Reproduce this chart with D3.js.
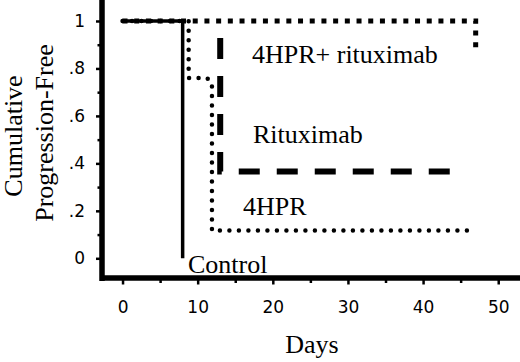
<!DOCTYPE html>
<html>
<head>
  <meta charset="utf-8">
  <style>
    body { margin: 0; background: #fff; }
    .axis text { font-family: "DejaVu Sans", Verdana, sans-serif; font-size: 17px; fill: #000; }
  </style>
</head>
<body>
<svg id="km" width="520" height="362"></svg>
<script src="https://d3js.org/d3.v7.min.js"></script>
<script>
// tick values and labels
var xTicks = [0, 10, 20, 30, 40, 50];
var xMinor = [5, 15, 25, 35, 45];
var yTicks = [0, .2, .4, .6, .8, 1];
var yTickLabels = ["0", ".2", ".4", ".6", ".8", "1"];
var yMinor = [.1, .3, .5, .7, .9];

// step curves: days and cumulative progression-free
var controlDays = [0, 8, 8];
var controlSurv = [1, 1, 0];
var hprDays = [0, 8.8, 8.8, 11.2, 11.9, 11.9, 46.2];
var hprSurv = [1, 1, .76, .76, .74, .117, .117];
var ritDays = [13, 13, 45.2];
var ritSurv = [1, .366, .366];
var comboDays = [0, 47, 47];
var comboSurv = [1, 1, .875];

var serif = "'Liberation Serif', 'Times New Roman', serif";

var svg = d3.select("#km");

var x = d3.scaleLinear().domain([-2.6, 52.5]).range([103, 517]);
var y = d3.scaleLinear().domain([-0.083, 1.08]).range([278, 2]);

// axes
var xAxis = d3.axisBottom(x).tickValues(xTicks).tickSize(7).tickSizeOuter(0).tickPadding(16)
    .tickFormat(d3.format("d"));
var xAxisMinor = d3.axisBottom(x).tickValues(xMinor).tickSize(5.5).tickSizeOuter(0).tickFormat("");
var yAxis = d3.axisLeft(y).tickValues(yTicks).tickSize(5.5).tickSizeOuter(0).tickPadding(11)
    .tickFormat(function(d, i) { return yTickLabels[i]; });
var yAxisMinor = d3.axisLeft(y).tickValues(yMinor).tickSize(4).tickSizeOuter(0).tickFormat("");

svg.append("g").attr("class", "axis").attr("transform", "translate(0,277.5)").call(xAxisMinor);
svg.append("g").attr("class", "axis").attr("transform", "translate(101.5,0)").call(yAxisMinor);
svg.append("g").attr("class", "axis").attr("transform", "translate(0,277.5)").call(xAxis);
svg.append("g").attr("class", "axis").attr("transform", "translate(101.5,0)").call(yAxis);

svg.selectAll(".axis .tick line").attr("stroke", "#000").attr("stroke-width", 2.5);
svg.selectAll(".axis .domain").attr("stroke", "#000").attr("stroke-width", 5)
    .attr("stroke-linecap", "square");
svg.selectAll(".axis .tick text").attr("fill", "#000");

// curves
var line = d3.line()
    .x(function(d) { return x(d[0]); })
    .y(function(d) { return y(d[1]); });

function pts(days, surv) {
  return days.map(function(d, i) { return [d, surv[i]]; });
}

svg.append("path")
    .attr("d", line(pts(controlDays, controlSurv)))
    .attr("fill", "none").attr("stroke", "#000").attr("stroke-width", 3.5);

svg.append("path")
    .attr("d", line(pts(ritDays, ritSurv)))
    .attr("fill", "none").attr("stroke", "#000").attr("stroke-width", 6)
    .attr("stroke-dasharray", "21,17").attr("stroke-dashoffset", 21);

svg.append("path")
    .attr("d", line(pts(hprDays, hprSurv)))
    .attr("fill", "none").attr("stroke", "#000").attr("stroke-width", 4.5)
    .attr("stroke-linecap", "round").attr("stroke-dasharray", "0,9.5");

svg.append("path")
    .attr("d", line(pts(comboDays, comboSurv)))
    .attr("fill", "none").attr("stroke", "#000").attr("stroke-width", 5)
    .attr("stroke-dasharray", "5,6.7");

function label(xp, yp, txt, anchor, rot) {
  var t = svg.append("text")
      .style("font-family", serif)
      .style("font-size", "26px")
      .style("font-weight", "normal")
      .style("fill", "#000")
      .style("text-anchor", anchor || "start")
      .text(txt);
  if (rot) t.attr("transform", "translate(" + xp + "," + yp + ") rotate(-90)");
  else t.attr("x", xp).attr("y", yp);
  return t;
}

// curve labels
label(252, 63, "4HPR+ rituximab");
label(253, 143, "Rituximab");
label(243, 215, "4HPR");
label(188, 273, "Control");

// axis titles
label(312, 353, "Days", "middle");
label(22, 136, "Cumulative", "middle", true);
label(53, 133, "Progression-Free", "middle", true);
</script>
</body>
</html>
